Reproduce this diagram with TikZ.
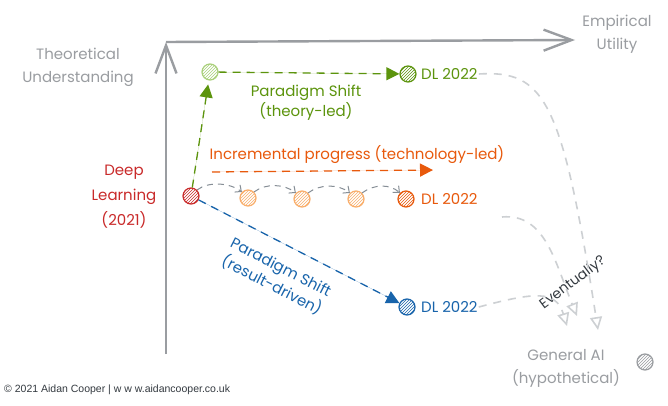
\documentclass[tikz,border=0pt]{standalone}
\usepackage{fontspec}
\setmainfont{Poppins}
\newfontfamily\arialfont{Liberation Sans}
\usetikzlibrary{arrows.meta,patterns}
\definecolor{axisgray}{HTML}{9A9DA1}
\definecolor{txtgray}{HTML}{9A9DA1}
\definecolor{curvegray}{HTML}{CDD0D3}
\definecolor{arcgray}{HTML}{868E96}
\definecolor{dred}{HTML}{C92A2A}
\definecolor{dgreen}{HTML}{5C940D}
\definecolor{lgreen}{HTML}{A9D07A}
\definecolor{dorange}{HTML}{E8590C}
\definecolor{lorange}{HTML}{F9AE6B}
\definecolor{dblue}{HTML}{1864AB}
\definecolor{dkgray}{HTML}{343A40}
\begin{document}
\begin{tikzpicture}[x=1pt,y=-1pt,
  dot/.style={circle,minimum size=16pt,inner sep=0pt,line width=1.2pt,pattern=north east lines},
  lbl/.style={font=\fontsize{15}{23}\selectfont,align=center,inner sep=1pt},
  axis/.style={draw=axisgray,line width=2.4pt,-{Straight Barb[length=28pt,width=21pt,line width=2.4pt]}},
  gcurve/.style={draw=curvegray,line width=1.6pt,dash pattern=on 8pt off 7pt,-{Triangle[open,length=13pt,width=12pt]}},
  hop/.style={draw=arcgray,line width=1pt,dash pattern=on 6pt off 5pt,-{Straight Barb[length=5pt,width=9pt]}},
  dline/.style={line width=1.3pt,dash pattern=on 8pt off 6pt,-{Triangle[length=13pt,width=13pt]}}]
\useasboundingbox (0,0) rectangle (668,406);
\fill[white] (0,0) rectangle (668,406);
% axes
\coordinate (origin) at (166,354);
\coordinate (corner) at (166,42);
\coordinate (xend) at (575,40);
\draw[axis] (origin) -- (corner);
\draw[axis] (corner) -- (xend);
% axis labels
\node[lbl,text=txtgray] (theo) at (78,67) {Theoretical\\Understanding};
\node[lbl,text=txtgray] (emp) at (617,34) {Empirical\\Utility};
\node[lbl,text=dred,font=\fontsize{15}{25}\selectfont] (deep) at (124,197) {Deep\\Learning\\(2021)};
% dots
\node[dot,draw=dred,pattern color=dred] (dl21) at (191,196) {};
\node[dot,draw=lorange,pattern color=lorange] (o1) at (248,198) {};
\node[dot,draw=lorange,pattern color=lorange] (o2) at (302,199) {};
\node[dot,draw=lorange,pattern color=lorange] (o3) at (356,199) {};
\node[dot,draw=dorange,pattern color=dorange] (o4) at (406,199) {};
\node[dot,draw=lgreen,pattern color=lgreen] (g1) at (210,72) {};
\node[dot,draw=dgreen,pattern color=dgreen] (g2) at (408,74) {};
\node[dot,draw=dblue,pattern color=dblue] (b1) at (407,307) {};
\node[dot,draw=txtgray,pattern color=txtgray] (gai) at (645,362) {};
% DL 2022 labels
\node[lbl,text=dgreen,anchor=west] (gdl) at (420,74) {DL 2022};
\node[lbl,text=dorange,anchor=west] (odl) at (420,199) {DL 2022};
\node[lbl,text=dblue,anchor=west] (bdl) at (420,307) {DL 2022};
% path labels
\node[lbl,text=dgreen,font=\fontsize{15}{20}\selectfont] (pst) at (306,103) {Paradigm Shift\\(theory-led)};
\node[lbl,text=dorange] (inc) at (357,155) {Incremental progress (technology-led)};
\node[lbl,text=dblue,rotate=-27,font=\fontsize{15}{20}\selectfont] (psr) at (276,277) {Paradigm Shift\\(result-driven)};
\node[lbl,text=dkgray,rotate=37,font=\fontsize{14}{20}\selectfont] (ev) at (573,283) {Eventually?};
\node[lbl,text=txtgray] (gaitxt) at (566,368) {General AI\\(hypothetical)};
\node[anchor=west,font=\arialfont\fontsize{10.5}{12}\selectfont,text=dkgray,inner sep=0pt] (copy) at (4,390) {© 2021 Aidan Cooper | w w w.aidancooper.co.uk};
% green path
\draw[dline,draw=dgreen,fill=dgreen,shorten >=4pt] (dl21) -- (g1);
\draw[dline,draw=dgreen,fill=dgreen] (g1) -- (g2);
% orange path
\coordinate (incs) at (212,172);
\coordinate (ince) at (433,170);
\draw[dline,draw=dorange,fill=dorange] (incs) -- (ince);
\draw[hop] (dl21.north east) .. controls +(12,-9) and +(-12,-9) .. (o1.north west);
\draw[hop] (o1.north east) .. controls +(12,-9) and +(-12,-9) .. (o2.north west);
\draw[hop] (o2.north east) .. controls +(12,-9) and +(-12,-9) .. (o3.north west);
\draw[hop] (o3.north east) .. controls +(12,-9) and +(-10,-9) .. (o4.north west);
% blue path
\draw[dline,draw=dblue,fill=dblue] (dl21) -- (b1);
% gray curves to general AI
\coordinate (t1) at (598,330);
\coordinate (t2) at (577,316);
\coordinate (t3) at (567,326);
\coordinate (c2s) at (502,217);
\draw[gcurve] (gdl.east) .. controls (545,70) and (562,100) .. (t1);
\draw[gcurve] (c2s) .. controls (545,213) and (555,262) .. (t2);
\draw[gcurve] (bdl.east) .. controls (535,292) and (556,290) .. (t3);
\end{tikzpicture}
\end{document}
